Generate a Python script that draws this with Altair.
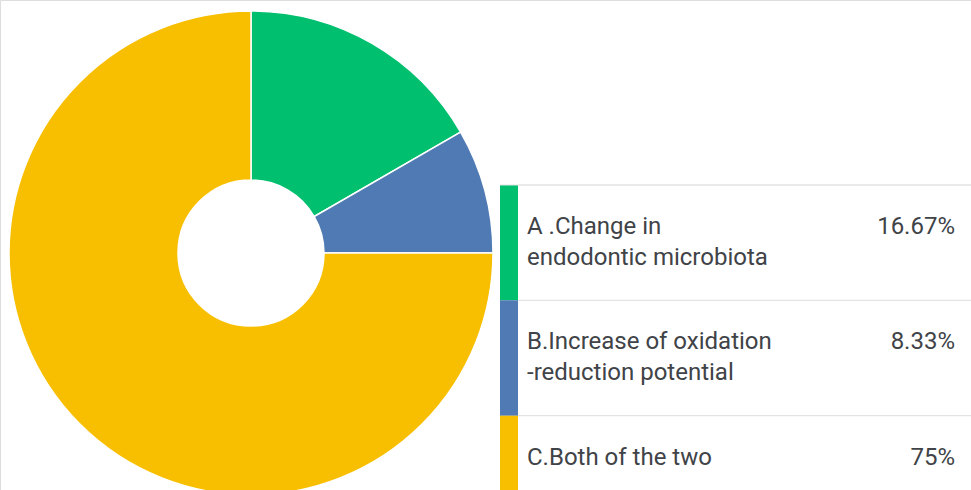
import altair as alt
import pandas as pd

# Survey answers and their shares (percent)
keys = ["A", "B", "C"]
line1 = ["A .Change in", "B.Increase of oxidation", "C.Both of the two"]
line2 = ["endodontic microbiota", "-reduction potential", ""]
shares = [16.67, 8.33, 75]
colors = ["#00BF6F", "#4F7AB4", "#F8BF00"]

df = pd.DataFrame({"key": keys, "line1": line1, "line2": line2, "share": shares,
                   "order": list(range(len(keys)))})

color = alt.Color("key:N", scale=alt.Scale(domain=keys, range=colors), legend=None)
row_scale = alt.Scale(domain=keys, range=[185, 531], paddingInner=0, paddingOuter=0)
rows = alt.Y("key:N", scale=row_scale, axis=None)
rows_top = alt.Y("key:N", bandPosition=0, scale=row_scale, axis=None)

base = alt.Chart(df)

donut = base.mark_arc(innerRadius=73, outerRadius=242, stroke="white",
                      strokeWidth=1.5).encode(
    theta=alt.Theta("share:Q", stack=True),
    order=alt.Order("order:Q"),
    color=color,
    x=alt.value(251),
    y=alt.value(253),
)

# legend table: colour strip, row separators and labels
bars = base.mark_rect().encode(
    x=alt.value(500), x2=alt.value(518), y=rows, color=color
)

separators = base.mark_rule(color="#e3e3e3", strokeWidth=1.2).encode(
    x=alt.value(518), x2=alt.value(971), y=rows_top
)

top_border = alt.Chart(df.head(1)).mark_rule(color="#e3e3e3", strokeWidth=1.2).encode(
    x=alt.value(500), x2=alt.value(971), y=rows_top
)

txt_style = dict(font="Roboto", fontSize=24, color="#404347", baseline="alphabetic")

first = base.mark_text(align="left", dy=49, **txt_style).encode(
    x=alt.value(527), y=rows_top, text="line1:N"
)
second = base.mark_text(align="left", dy=80, **txt_style).encode(
    x=alt.value(527), y=rows_top, text="line2:N"
)
pct = base.transform_calculate(
    pct="format(datum.share, '.2~f') + '%'"
).mark_text(align="right", dy=49, **txt_style).encode(
    x=alt.value(955), y=rows_top, text="pct:N"
)

chart = alt.layer(donut, bars, separators, top_border, first, second, pct).properties(
    width=971, height=490, padding=0,
    autosize=alt.AutoSizeParams(type="none"),
).configure_view(stroke=None).configure(background="white")

chart.save("out.html", embed_options={"renderer": "svg", "actions": False})
